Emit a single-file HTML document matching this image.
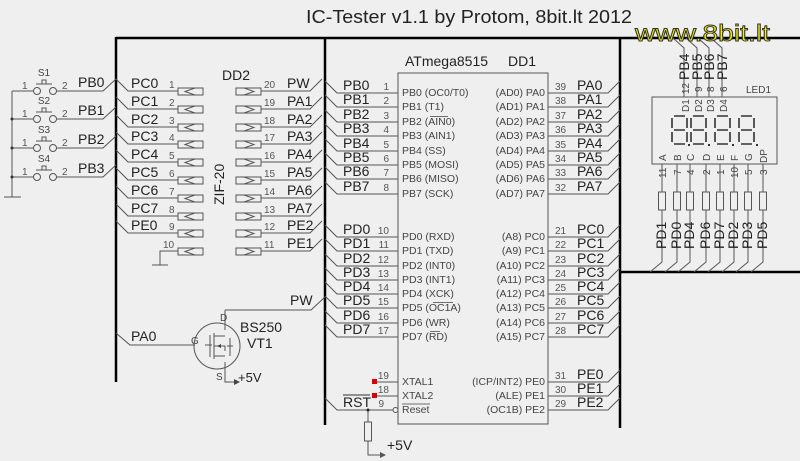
<!DOCTYPE html>
<html><head><meta charset="utf-8"><style>
html,body{margin:0;padding:0;background:#efefef;}
svg{display:block;font-family:"Liberation Sans",sans-serif;}
.w{stroke:#555;stroke-width:1;fill:none;}
.b{stroke:#000;stroke-width:2.5;fill:none;}
.L{font-size:14px;fill:#222;}
.n{font-size:10px;fill:#555;}
.i{font-size:10.5px;fill:#444;}
.s{font-size:10px;fill:#444;}
</style></head><body>
<svg width="800" height="461" viewBox="0 0 800 461" xmlns="http://www.w3.org/2000/svg">
<rect width="800" height="461" fill="#efefef"/>
<text x="306" y="23" font-size="18" fill="#222" textLength="326" lengthAdjust="spacingAndGlyphs">IC-Tester v1.1 by Protom, 8bit.lt 2012</text>

<path class="b" d="M116 38 H800 M116 37 V382 M325 37 V425 M620 37 V428 M620 272 H800"/>

<g class="w">
<path d="M12 91 V197 M4 197 H21"/>
<path d="M12 91 H33 M57 91 H103 L116 79"/>
<path d="M12 119 H33 M57 119 H103 L116 107"/>
<path d="M12 148 H33 M57 148 H103 L116 136"/>
<path d="M12 177 H33 M57 177 H103 L116 165"/>
<circle cx="37" cy="91" r="3.5"/><circle cx="53" cy="91" r="3.5"/>
<circle cx="37" cy="119" r="3.5"/><circle cx="53" cy="119" r="3.5"/>
<circle cx="37" cy="148" r="3.5"/><circle cx="53" cy="148" r="3.5"/>
<circle cx="37" cy="177" r="3.5"/><circle cx="53" cy="177" r="3.5"/>
<path d="M36 84 H52 M42 84 V80 H46 V84"/>
<path d="M36 112 H52 M42 112 V108 H46 V112"/>
<path d="M36 141 H52 M42 141 V137 H46 V141"/>
<path d="M36 170 H52 M42 170 V166 H46 V170"/>
</g>
<g fill="#333"><circle cx="12" cy="119" r="1.5"/><circle cx="12" cy="148" r="1.5"/><circle cx="12" cy="177" r="1.5"/></g>
<g class="s" text-anchor="middle"><text x="44" y="76">S1</text><text x="44" y="104">S2</text><text x="44" y="133">S3</text><text x="44" y="162">S4</text></g>
<g class="n"><text x="22" y="89">1</text><text x="62" y="89">2</text><text x="22" y="117">1</text><text x="62" y="117">2</text><text x="22" y="146">1</text><text x="62" y="146">2</text><text x="22" y="175">1</text><text x="62" y="175">2</text></g>
<g class="L"><text x="78" y="87">PB0</text><text x="78" y="115">PB1</text><text x="78" y="144">PB2</text><text x="78" y="173">PB3</text></g>

<text x="222" y="80" class="L" font-size="13">DD2</text>
<text transform="translate(224,205) rotate(-90)" class="L" font-size="14">ZIF-20</text>
<g class="w">
<path d="M116 79 L128 91 H178 M116 97 L128 109 H178 M116 115 L128 127 H178 M116 132 L128 144 H178 M116 150 L128 162 H178 M116 168 L128 180 H178 M116 186 L128 198 H178 M116 204 L128 216 H178 M116 221 L128 233 H178"/>
<path d="M178 251 H160 V265 M152 265 H168"/>
<path d="M261 91 H310 L322 79 M261 109 H310 L322 97 M261 127 H310 L322 115 M261 144 H310 L322 132 M261 162 H310 L322 150 M261 180 H310 L322 168 M261 198 H310 L322 186 M261 216 H310 L322 204 M261 233 H310 L322 221 M261 251 H310 L322 239"/>
</g>
<g class="w" stroke="#444">
<rect x="178" y="88" width="25" height="7"/><rect x="178" y="106" width="25" height="7"/><rect x="178" y="124" width="25" height="7"/><rect x="178" y="141" width="25" height="7"/><rect x="178" y="159" width="25" height="7"/><rect x="178" y="177" width="25" height="7"/><rect x="178" y="195" width="25" height="7"/><rect x="178" y="213" width="25" height="7"/><rect x="178" y="230" width="25" height="7"/><rect x="178" y="248" width="25" height="7"/>
<rect x="236" y="88" width="25" height="7"/><rect x="236" y="106" width="25" height="7"/><rect x="236" y="124" width="25" height="7"/><rect x="236" y="141" width="25" height="7"/><rect x="236" y="159" width="25" height="7"/><rect x="236" y="177" width="25" height="7"/><rect x="236" y="195" width="25" height="7"/><rect x="236" y="213" width="25" height="7"/><rect x="236" y="230" width="25" height="7"/><rect x="236" y="248" width="25" height="7"/>
<path d="M195 88 L185 91.5 L195 95 M195 106 L185 109.5 L195 113 M195 124 L185 127.5 L195 131 M195 141 L185 144.5 L195 148 M195 159 L185 162.5 L195 166 M195 177 L185 180.5 L195 184 M195 195 L185 198.5 L195 202 M195 213 L185 216.5 L195 220 M195 230 L185 233.5 L195 237 M195 248 L185 251.5 L195 255"/>
<path d="M244 88 L254 91.5 L244 95 M244 106 L254 109.5 L244 113 M244 124 L254 127.5 L244 131 M244 141 L254 144.5 L244 148 M244 159 L254 162.5 L244 166 M244 177 L254 180.5 L244 184 M244 195 L254 198.5 L244 202 M244 213 L254 216.5 L244 220 M244 230 L254 233.5 L244 237 M244 248 L254 251.5 L244 255"/>
</g>
<g class="L"><text x="131" y="88">PC0</text><text x="131" y="106">PC1</text><text x="131" y="124">PC2</text><text x="131" y="141">PC3</text><text x="131" y="159">PC4</text><text x="131" y="177">PC5</text><text x="131" y="195">PC6</text><text x="131" y="213">PC7</text><text x="131" y="230">PE0</text></g>
<g class="n"><text x="169" y="88">1</text><text x="169" y="106">2</text><text x="169" y="124">3</text><text x="169" y="141">4</text><text x="169" y="159">5</text><text x="169" y="177">6</text><text x="169" y="195">7</text><text x="169" y="213">8</text><text x="169" y="230">9</text><text x="163" y="248">10</text></g>
<g class="n"><text x="264" y="88">20</text><text x="264" y="106">19</text><text x="264" y="124">18</text><text x="264" y="141">17</text><text x="264" y="159">16</text><text x="264" y="177">15</text><text x="264" y="195">14</text><text x="264" y="213">13</text><text x="264" y="230">12</text><text x="264" y="248">11</text></g>
<g class="L"><text x="287" y="88">PW</text><text x="287" y="106">PA1</text><text x="287" y="124">PA2</text><text x="287" y="141">PA3</text><text x="287" y="159">PA4</text><text x="287" y="177">PA5</text><text x="287" y="195">PA6</text><text x="287" y="213">PA7</text><text x="287" y="230">PE2</text><text x="287" y="248">PE1</text></g>

<text x="405" y="66" class="L" font-size="13">ATmega8515</text>
<text x="508" y="66" class="L" font-size="13">DD1</text>
<rect x="398" y="73" width="150" height="351" fill="none" stroke="#555"/>
<g class="w">
<path d="M325 81 L337 93 H398 M325 95 L337 107 H398 M325 110 L337 122 H398 M325 124 L337 136 H398 M325 139 L337 151 H398 M325 153 L337 165 H398 M325 167 L337 179 H398 M325 182 L337 194 H398"/>
<path d="M325 225 L337 237 H398 M325 239 L337 251 H398 M325 254 L337 266 H398 M325 268 L337 280 H398 M325 282 L337 294 H398 M325 296 L337 308 H398 M325 311 L337 323 H398 M325 325 L337 337 H398"/>
<path d="M548 93 H608 L620 81 M548 107 H608 L620 95 M548 122 H608 L620 110 M548 136 H608 L620 124 M548 151 H608 L620 139 M548 165 H608 L620 153 M548 179 H608 L620 167 M548 194 H608 L620 182"/>
<path d="M548 237 H608 L620 225 M548 251 H608 L620 239 M548 266 H608 L620 254 M548 280 H608 L620 268 M548 294 H608 L620 282 M548 308 H608 L620 296 M548 323 H608 L620 311 M548 337 H608 L620 325"/>
<path d="M548 382 H608 L620 370 M548 396 H608 L620 384 M548 410 H608 L620 398"/>
<path d="M375 382 H398 M375 396 H398 M325 398 L337 410 H393"/>
<circle cx="395.5" cy="410" r="2.5"/>
<path d="M368 410 V422 M368 441 V455 H383"/>
<rect x="364.5" y="422" width="7" height="19"/>
</g>
<path d="M380 452 L386 455 L380 458 Z" fill="#555"/>
<circle cx="368" cy="410" r="1.5" fill="#222"/>
<rect x="372" y="379" width="5" height="5" fill="#d00"/><rect x="372" y="393" width="5" height="5" fill="#d00"/>
<text x="387" y="450" class="L" font-size="13">+5V</text>
<g class="L"><text x="343" y="90">PB0</text><text x="343" y="104">PB1</text><text x="343" y="119">PB2</text><text x="343" y="133">PB3</text><text x="343" y="148">PB4</text><text x="343" y="162">PB5</text><text x="343" y="176">PB6</text><text x="343" y="191">PB7</text>
<text x="343" y="234">PD0</text><text x="343" y="248">PD1</text><text x="343" y="263">PD2</text><text x="343" y="277">PD3</text><text x="343" y="291">PD4</text><text x="343" y="305">PD5</text><text x="343" y="320">PD6</text><text x="343" y="334">PD7</text>
<text x="343" y="407">RST</text></g>
<path d="M343 395 H370" stroke="#333" stroke-width="1"/>
<g class="n" text-anchor="end"><text x="389" y="90">1</text><text x="389" y="104">2</text><text x="389" y="119">3</text><text x="389" y="133">4</text><text x="389" y="148">5</text><text x="389" y="162">6</text><text x="389" y="176">7</text><text x="389" y="191">8</text>
<text x="389" y="234">10</text><text x="389" y="248">11</text><text x="389" y="263">12</text><text x="389" y="277">13</text><text x="389" y="291">14</text><text x="389" y="305">15</text><text x="389" y="320">16</text><text x="389" y="334">17</text>
<text x="389" y="379">19</text><text x="389" y="393">18</text><text x="384" y="407">9</text></g>
<g class="i"><text x="402" y="96">PB0 (OC0/T0)</text><text x="402" y="110">PB1 (T1)</text><text x="402" y="125">PB2 (AIN0)</text><text x="402" y="139">PB3 (AIN1)</text><text x="402" y="154">PB4 (SS)</text><text x="402" y="168">PB5 (MOSI)</text><text x="402" y="182">PB6 (MISO)</text><text x="402" y="197">PB7 (SCK)</text>
<text x="402" y="240">PD0 (RXD)</text><text x="402" y="254">PD1 (TXD)</text><text x="402" y="269">PD2 (INT0)</text><text x="402" y="283">PD3 (INT1)</text><text x="402" y="297">PD4 (XCK)</text><text x="402" y="311">PD5 (OC1A)</text><text x="402" y="326">PD6 (WR)</text><text x="402" y="340">PD7 (RD)</text>
<text x="402" y="385">XTAL1</text><text x="402" y="399">XTAL2</text><text x="402" y="413">Reset</text></g>
<path d="M430 116.5 H448 M433 302.5 H453 M430 331.5 H440 M402 404 H430" stroke="#444" stroke-width="0.8"/>
<g class="i" text-anchor="end"><text x="545" y="96">(AD0) PA0</text><text x="545" y="110">(AD1) PA1</text><text x="545" y="125">(AD2) PA2</text><text x="545" y="139">(AD3) PA3</text><text x="545" y="154">(AD4) PA4</text><text x="545" y="168">(AD5) PA5</text><text x="545" y="182">(AD6) PA6</text><text x="545" y="197">(AD7) PA7</text>
<text x="545" y="240">(A8) PC0</text><text x="545" y="254">(A9) PC1</text><text x="545" y="269">(A10) PC2</text><text x="545" y="283">(A11) PC3</text><text x="545" y="297">(A12) PC4</text><text x="545" y="311">(A13) PC5</text><text x="545" y="326">(A14) PC6</text><text x="545" y="340">(A15) PC7</text>
<text x="545" y="385">(ICP/INT2) PE0</text><text x="545" y="399">(ALE) PE1</text><text x="545" y="413">(OC1B) PE2</text></g>
<g class="n"><text x="555" y="90">39</text><text x="555" y="104">38</text><text x="555" y="119">37</text><text x="555" y="133">36</text><text x="555" y="148">35</text><text x="555" y="162">34</text><text x="555" y="176">33</text><text x="555" y="191">32</text>
<text x="555" y="234">21</text><text x="555" y="248">22</text><text x="555" y="263">23</text><text x="555" y="277">24</text><text x="555" y="291">25</text><text x="555" y="305">26</text><text x="555" y="320">27</text><text x="555" y="334">28</text>
<text x="555" y="379">31</text><text x="555" y="393">30</text><text x="555" y="407">29</text></g>
<g class="L"><text x="577" y="90">PA0</text><text x="577" y="104">PA1</text><text x="577" y="119">PA2</text><text x="577" y="133">PA3</text><text x="577" y="148">PA4</text><text x="577" y="162">PA5</text><text x="577" y="176">PA6</text><text x="577" y="191">PA7</text>
<text x="577" y="234">PC0</text><text x="577" y="248">PC1</text><text x="577" y="263">PC2</text><text x="577" y="277">PC3</text><text x="577" y="291">PC4</text><text x="577" y="305">PC5</text><text x="577" y="320">PC6</text><text x="577" y="334">PC7</text>
<text x="577" y="379">PE0</text><text x="577" y="393">PE1</text><text x="577" y="407">PE2</text></g>

<g class="w">
<path d="M116 333 L130 345 H195"/>
<circle cx="217" cy="346" r="23"/>
<path d="M225 310 H311 L325 297 M225 310 V330 M225 362 V382 H234"/>
<path d="M205 345 H212 M210 335 V357 M214 333 V359 M214 336 H225 M214 346 H225 V351 M214 356 H225"/>
<path d="M230 338 V356 M227 346 H233"/>
</g>
<path d="M217 346 L221 344 V348 Z M234 379 L240 382 L234 385 Z" fill="#444"/>
<g class="s"><text x="191" y="344">G</text><text x="220" y="321">D</text><text x="216" y="380">S</text></g>
<g class="L"><text x="131" y="341">PA0</text><text x="290" y="305">PW</text><text x="240" y="332">BS250</text><text x="247" y="348">VT1</text><text x="238" y="382" font-size="13">+5V</text></g>

<rect x="652" y="97" width="125" height="67" fill="none" stroke="#555"/>
<text x="746" y="93" class="s">LED1</text>
<g stroke="#333" stroke-width="1.6" fill="none">
<path d="M674 116 H685 M672 118 V128 M687 118 V128 M674 130 H685 M672 132 V142 M687 132 V142 M674 144 H685"/>
<path d="M693 116 H704 M691 118 V128 M706 118 V128 M693 130 H704 M691 132 V142 M706 132 V142 M693 144 H704"/>
<path d="M717 116 H728 M715 118 V128 M730 118 V128 M717 130 H728 M715 132 V142 M730 132 V142 M717 144 H728"/>
<path d="M741 116 H752 M739 118 V128 M754 118 V128 M741 130 H752 M739 132 V142 M754 132 V142 M741 144 H752"/>
</g>
<g fill="#333"><rect x="688" y="144" width="2" height="2"/><rect x="708" y="144" width="2" height="2"/><rect x="732" y="144" width="2" height="2"/><rect x="756" y="144" width="2" height="2"/></g>
<g class="w">
<path d="M684 97 V48 L673 38 M697 97 V48 L686 38 M709 97 V48 L698 38 M722 97 V48 L711 38"/>
<path d="M662 164 V192 M662 210 V262 L650 272 M677 164 V192 M677 210 V262 L665 272 M690 164 V192 M690 210 V262 L678 272 M706 164 V192 M706 210 V262 L694 272 M720 164 V192 M720 210 V262 L708 272 M734 164 V192 M734 210 V262 L722 272 M748 164 V192 M748 210 V262 L736 272 M763 164 V192 M763 210 V262 L751 272"/>
<rect x="658.5" y="192" width="7" height="18"/><rect x="673.5" y="192" width="7" height="18"/><rect x="686.5" y="192" width="7" height="18"/><rect x="702.5" y="192" width="7" height="18"/><rect x="716.5" y="192" width="7" height="18"/><rect x="730.5" y="192" width="7" height="18"/><rect x="744.5" y="192" width="7" height="18"/><rect x="759.5" y="192" width="7" height="18"/>
</g>
<g class="L">
<text transform="translate(689,80) rotate(-90)">PB4</text><text transform="translate(702,80) rotate(-90)">PB5</text><text transform="translate(714,80) rotate(-90)">PB6</text><text transform="translate(727,80) rotate(-90)">PB7</text>
<text transform="translate(666,249) rotate(-90)">PD1</text><text transform="translate(681,249) rotate(-90)">PD0</text><text transform="translate(694,249) rotate(-90)">PD4</text><text transform="translate(710,249) rotate(-90)">PD6</text><text transform="translate(724,249) rotate(-90)">PD7</text><text transform="translate(738,249) rotate(-90)">PD2</text><text transform="translate(752,249) rotate(-90)">PD3</text><text transform="translate(767,249) rotate(-90)">PD5</text>
</g>
<g class="s">
<text transform="translate(689,94) rotate(-90)">12</text><text transform="translate(702,92) rotate(-90)">9</text><text transform="translate(714,92) rotate(-90)">8</text><text transform="translate(727,92) rotate(-90)">6</text>
<text transform="translate(689,112) rotate(-90)">D1</text><text transform="translate(702,112) rotate(-90)">D2</text><text transform="translate(714,112) rotate(-90)">D3</text><text transform="translate(727,112) rotate(-90)">D4</text>
<text transform="translate(666,161) rotate(-90)">A</text><text transform="translate(681,161) rotate(-90)">B</text><text transform="translate(694,161) rotate(-90)">C</text><text transform="translate(710,161) rotate(-90)">D</text><text transform="translate(724,161) rotate(-90)">E</text><text transform="translate(738,161) rotate(-90)">F</text><text transform="translate(752,161) rotate(-90)">G</text><text transform="translate(767,163) rotate(-90)">DP</text>
<text transform="translate(666,178) rotate(-90)">11</text><text transform="translate(681,175) rotate(-90)">7</text><text transform="translate(694,175) rotate(-90)">4</text><text transform="translate(710,175) rotate(-90)">2</text><text transform="translate(724,175) rotate(-90)">1</text><text transform="translate(738,178) rotate(-90)">10</text><text transform="translate(752,175) rotate(-90)">5</text><text transform="translate(767,175) rotate(-90)">3</text>
</g>
<text x="635" y="41" font-size="23" fill="#f3f000" stroke="#333" stroke-width="0.9" textLength="135" lengthAdjust="spacingAndGlyphs">www.8bit.lt</text>
</svg>
</body></html>
